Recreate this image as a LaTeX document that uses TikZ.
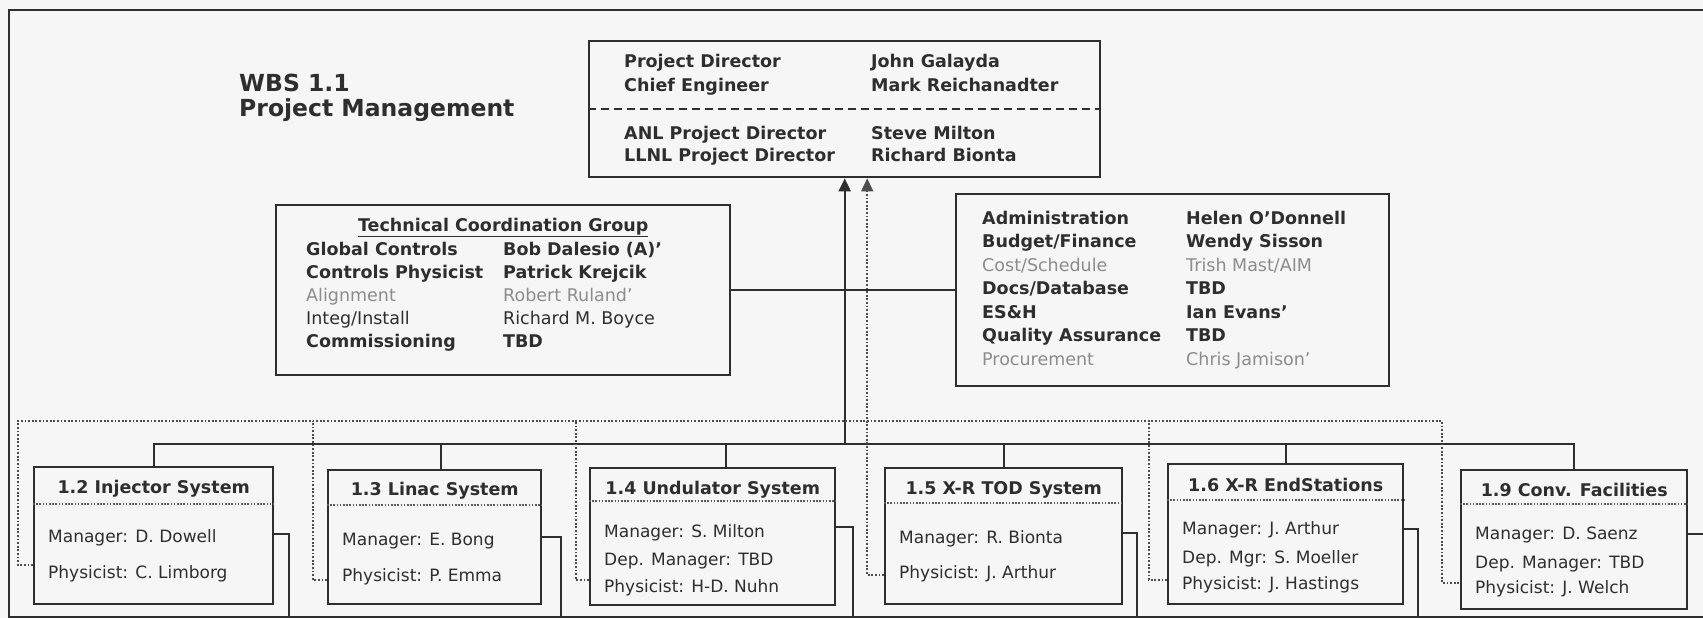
\documentclass[tikz,border=0pt]{standalone}
\usepackage{fontspec}
\setmainfont{DejaVu Sans}
\usetikzlibrary{positioning, arrows.meta, calc}

\definecolor{inkline}{HTML}{2E2E2E}
\definecolor{inkfaint}{HTML}{8C8C8C}
\definecolor{paper}{HTML}{F6F6F6}
\newcommand{\lowtone}[1]{{\mdseries\color{inkfaint}#1}}

\begin{document}
\begin{tikzpicture}[
    x=1pt, y=-1pt,
    every node/.style={inner sep=0pt, text=inkline},
    conn/.style={draw=inkline, line width=2.4pt},
    arrow/.style={conn, -{Triangle[length=13pt, width=12pt]}},
    dotconn/.style={draw=inkline!85, line width=1.8pt, dash pattern=on 1.8pt off 1.8pt},
    dotarrow/.style={dotconn, -{Triangle[length=13pt, width=12pt]}},
    sepline/.style={draw=inkline!80, line width=1.6pt, dash pattern=on 1.6pt off 1.6pt},
    dashsep/.style={draw=inkline, line width=2pt, dash pattern=on 8pt off 5pt},
    sysbox/.style={draw=inkline, line width=2.4pt, anchor=north west},
    systitle/.style={font=\fontsize{17.5}{21}\selectfont\bfseries},
    sysrow/.style={anchor=west, text height=12.4pt, text depth=0pt, font=\fontsize{17}{20}\selectfont},
    col/.style={anchor=north west, align=left, font=\fontsize{17.5}{#1}\selectfont\bfseries},
    col/.default=23.5
  ]
  \useasboundingbox (0,0) rectangle (1703,618);
  \clip (0,0) rectangle (1703,618);
  \fill[paper] (0,0) rectangle (1703,618);
  \draw[conn, line width=2.2pt] (9,10) rectangle (1712,617);

  % heading
  \node[anchor=north west, align=left, font=\fontsize{23.5}{25}\selectfont\bfseries] (wbs) at (239,74) {WBS 1.1\\Project Management};

  % project office
  \node[sysbox, minimum width=511pt, minimum height=136pt] (pd) at (588,40) {};
  \draw[dashsep] (pd.west) -- (pd.east);
  \node[col=24] (pdl) at (624,54) {Project Director\\Chief Engineer};
  \node[col=24] (pdr) at (871,54) {John Galayda\\Mark Reichanadter};
  \node[col=22] (pdl2) at (624,126) {ANL Project Director\\LLNL Project Director};
  \node[col=22] (pdr2) at (871,126) {Steve Milton\\Richard Bionta};

  % technical coordination
  \node[sysbox, minimum width=454pt, minimum height=170pt] (tcg) at (275,204) {};
  \node[systitle, below=14pt of tcg.north] (tcgt) {\underline{Technical Coordination Group}};
  \node[col=23] (tcgl) at (306,242) {Global Controls\\Controls Physicist\\\lowtone{Alignment}\\{\mdseries Integ/Install}\\Commissioning};
  \node[col=23] (tcgr) at (503,242) {Bob Dalesio (A)'\\Patrick Krejcik\\\lowtone{Robert Ruland'}\\{\mdseries Richard M. Boyce}\\TBD};

  % administration
  \node[sysbox, minimum width=433pt, minimum height=192pt] (adm) at (955,193) {};
  \node[col] (adml) at (982,211) {Administration\\Budget/Finance\\\lowtone{Cost/Schedule}\\Docs/Database\\ES\&H\\Quality Assurance\\\lowtone{Procurement}};
  \node[col] (admr) at (1186,211) {Helen O'Donnell\\Wendy Sisson\\\lowtone{Trish Mast/AIM}\\TBD\\Ian Evans'\\TBD\\\lowtone{Chris Jamison'}};

  \draw[conn] (tcg.east) -- (adm.west);

  % system boxes
  \node[sysbox, minimum width=239pt, minimum height=137pt] (s12) at (33,466) {};
  \node[systitle, below=14pt of s12.north] (s12t) {1.2 Injector System};
  \draw[sepline] ([yshift=-38pt]s12.north west) -- ([yshift=-38pt]s12.north east);
  \node[sysrow] (s12a) at ([xshift=15pt, yshift=-70pt]s12.north west) {Manager: D. Dowell};
  \node[sysrow] (s12b) at ([xshift=15pt, yshift=-106pt]s12.north west) {Physicist: C. Limborg};

  \node[sysbox, minimum width=213pt, minimum height=134pt] (s13) at (327,469) {};
  \node[systitle, below=13pt of s13.north] (s13t) {1.3 Linac System};
  \draw[sepline] ([yshift=-36pt]s13.north west) -- ([yshift=-36pt]s13.north east);
  \node[sysrow] (s13a) at ([xshift=15pt, yshift=-70pt]s13.north west) {Manager: E. Bong};
  \node[sysrow] (s13b) at ([xshift=15pt, yshift=-106pt]s13.north west) {Physicist: P. Emma};

  \node[sysbox, minimum width=245pt, minimum height=137pt] (s14) at (589,467) {};
  \node[systitle, below=14pt of s14.north] (s14t) {1.4 Undulator System};
  \draw[sepline] ([yshift=-34pt]s14.north west) -- ([yshift=-34pt]s14.north east);
  \node[sysrow] (s14a) at ([xshift=15pt, yshift=-64pt]s14.north west) {Manager: S. Milton};
  \node[sysrow] (s14b) at ([xshift=15pt, yshift=-92pt]s14.north west) {Dep. Manager: TBD};
  \node[sysrow] (s14c) at ([xshift=15pt, yshift=-119pt]s14.north west) {Physicist: H-D. Nuhn};

  \node[sysbox, minimum width=237pt, minimum height=136pt] (s15) at (884,467) {};
  \node[systitle, below=14pt of s15.north] (s15t) {1.5 X-R TOD System};
  \draw[sepline] ([yshift=-36pt]s15.north west) -- ([yshift=-36pt]s15.north east);
  \node[sysrow] (s15a) at ([xshift=15pt, yshift=-70pt]s15.north west) {Manager: R. Bionta};
  \node[sysrow] (s15b) at ([xshift=15pt, yshift=-105pt]s15.north west) {Physicist: J. Arthur};

  \node[sysbox, minimum width=235pt, minimum height=140pt] (s16) at (1167,463) {};
  \node[systitle, below=15pt of s16.north] (s16t) {1.6 X-R EndStations};
  \draw[sepline] ([yshift=-37pt]s16.north west) -- ([yshift=-37pt]s16.north east);
  \node[sysrow] (s16a) at ([xshift=15pt, yshift=-65pt]s16.north west) {Manager: J. Arthur};
  \node[sysrow] (s16b) at ([xshift=15pt, yshift=-94pt]s16.north west) {Dep. Mgr: S. Moeller};
  \node[sysrow] (s16c) at ([xshift=15pt, yshift=-120pt]s16.north west) {Physicist: J. Hastings};

  \node[sysbox, minimum width=226pt, minimum height=139pt] (s19) at (1460,469) {};
  \node[systitle, below=14pt of s19.north] (s19t) {1.9 Conv. Facilities};
  \draw[sepline] ([yshift=-35pt]s19.north west) -- ([yshift=-35pt]s19.north east);
  \node[sysrow] (s19a) at ([xshift=15pt, yshift=-64pt]s19.north west) {Manager: D. Saenz};
  \node[sysrow] (s19b) at ([xshift=15pt, yshift=-93pt]s19.north west) {Dep. Manager: TBD};
  \node[sysrow] (s19c) at ([xshift=15pt, yshift=-118pt]s19.north west) {Physicist: J. Welch};

  % solid reporting lines
  \coordinate (bus) at (152.5,444);
  \draw[conn] (s12.north) -- (s12.north |- bus) -| (s19.north);
  \draw[conn] ([xshift=6.5pt]s13.north) -- ([xshift=6.5pt]s13.north |- bus);
  \draw[conn] ([xshift=13.5pt]s14.north) -- ([xshift=13.5pt]s14.north |- bus);
  \draw[conn] (s15.north) -- (s15.north |- bus);
  \draw[conn] (s16.north) -- (s16.north |- bus);
  \draw[arrow] (pd.south |- bus) -- (pd.south);

  % dotted lines
  \coordinate (dL) at (18,421);
  \coordinate (dR) at (1442,421);
  \draw[dotconn] ([yshift=-99pt]s12.north west) -| (dL) -- (dR) |- ([yshift=-114pt]s19.north west);
  \draw[dotconn] ([yshift=-111pt]s13.north west) -- ++(-14,0) coordinate (d13) -- (d13 |- dL);
  \draw[dotconn] ([yshift=-113pt]s14.north west) -- ++(-13,0) coordinate (d14) -- (d14 |- dL);
  \draw[dotconn] ([yshift=-117pt]s16.north west) -- ++(-18,0) coordinate (d16) -- (d16 |- dL);
  \draw[dotarrow] ([yshift=-108pt]s15.north west) -| ([xshift=22.5pt]pd.south);

  % lines leaving the page
  \coordinate (e12) at (289,630);
  \coordinate (e13) at (561,630);
  \coordinate (e14) at (853,630);
  \coordinate (e15) at (1137,630);
  \coordinate (e16) at (1418,630);
  \coordinate (e19) at (1712,534);
  \draw[conn] ([yshift=-68pt]s12.north east) -| (e12);
  \draw[conn] ([yshift=-68pt]s13.north east) -| (e13);
  \draw[conn] ([yshift=-60pt]s14.north east) -| (e14);
  \draw[conn] ([yshift=-66pt]s15.north east) -| (e15);
  \draw[conn] ([yshift=-66pt]s16.north east) -| (e16);
  \draw[conn] ([yshift=-65pt]s19.north east) -- (e19);
\end{tikzpicture}
\end{document}
